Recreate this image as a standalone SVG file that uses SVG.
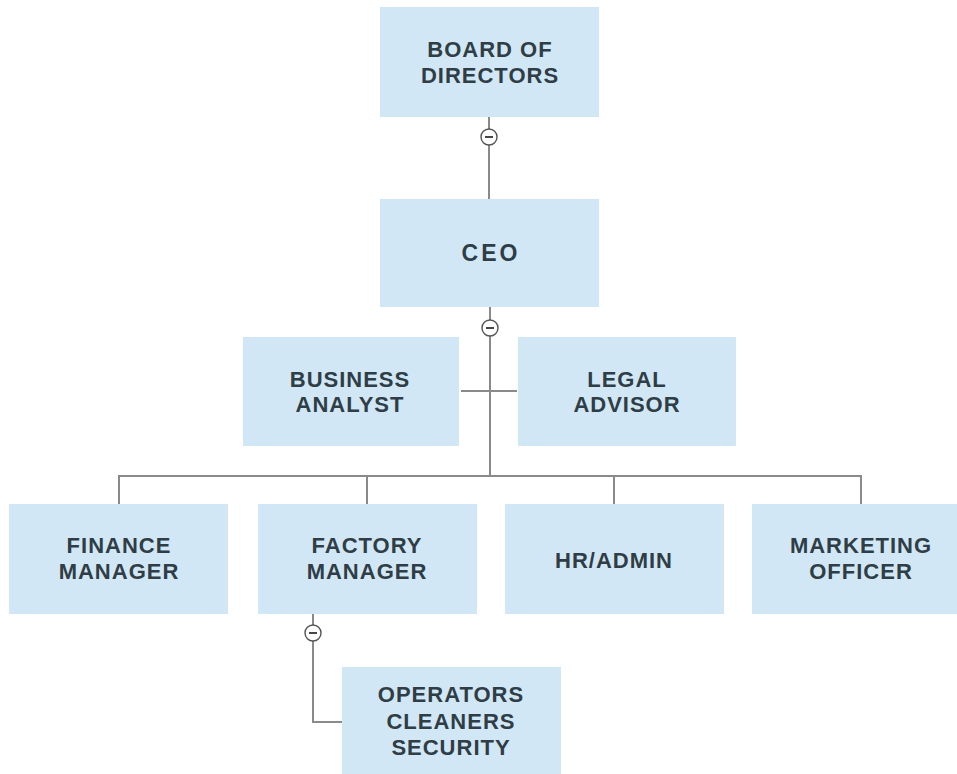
<svg xmlns="http://www.w3.org/2000/svg" width="957" height="774" viewBox="0 0 957 774">
<style>
.box{fill:#d2e7f5;}
.t{font-family:"Liberation Sans",Arial,sans-serif;font-weight:bold;font-size:22px;fill:#2f3d46;text-anchor:middle;letter-spacing:1px;}
.ceo{font-size:23px;letter-spacing:3px;}
.ln{stroke:#8a8a8a;stroke-width:2;fill:none;}
.cb{fill:#ffffff;stroke:#555;stroke-width:1.4;}
.cm{stroke:#333;stroke-width:1.8;}
</style>
<rect width="957" height="774" fill="#ffffff"/>
<g id="connectors">
<path class="ln" d="M489 117 V199"/>
<path class="ln" d="M490 307 V476"/>
<path class="ln" d="M461 391 H517"/>
<path class="ln" d="M119 504 V476 H861 V504"/>
<path class="ln" d="M367 476 V504"/>
<path class="ln" d="M614 476 V504"/>
<path class="ln" d="M313 613 V722 H342"/>
<circle class="cb" cx="489" cy="137" r="8"/><path class="cm" d="M485 137 H493"/>
<circle class="cb" cx="490" cy="328" r="8"/><path class="cm" d="M486 328 H494"/>
<circle class="cb" cx="313" cy="633" r="8"/><path class="cm" d="M309 633 H317"/>
</g>
<g id="board"><rect class="box" x="380" y="7" width="219" height="110"/><text class="t" x="490" y="57">BOARD OF</text><text class="t" x="490" y="83">DIRECTORS</text></g>
<g id="ceo"><rect class="box" x="380" y="199" width="219" height="108"/><text class="t ceo" x="491" y="261">CEO</text></g>
<g id="business"><rect class="box" x="243" y="337" width="216" height="109"/><text class="t" x="350" y="387">BUSINESS</text><text class="t" x="350" y="412">ANALYST</text></g>
<g id="legal"><rect class="box" x="518" y="337" width="218" height="109"/><text class="t" x="627" y="387">LEGAL</text><text class="t" x="627" y="412">ADVISOR</text></g>
<g id="finance"><rect class="box" x="9" y="504" width="219" height="110"/><text class="t" x="119" y="553">FINANCE</text><text class="t" x="119" y="579">MANAGER</text></g>
<g id="factory"><rect class="box" x="258" y="504" width="219" height="110"/><text class="t" x="367" y="553">FACTORY</text><text class="t" x="367" y="579">MANAGER</text></g>
<g id="hr"><rect class="box" x="505" y="504" width="219" height="110"/><text class="t" x="614" y="568">HR/ADMIN</text></g>
<g id="marketing"><rect class="box" x="752" y="504" width="219" height="110"/><text class="t" x="861" y="553">MARKETING</text><text class="t" x="861" y="579">OFFICER</text></g>
<g id="operators"><rect class="box" x="342" y="667" width="219" height="110"/><text class="t" x="451" y="702">OPERATORS</text><text class="t" x="451" y="729">CLEANERS</text><text class="t" x="451" y="755">SECURITY</text></g>
</svg>
